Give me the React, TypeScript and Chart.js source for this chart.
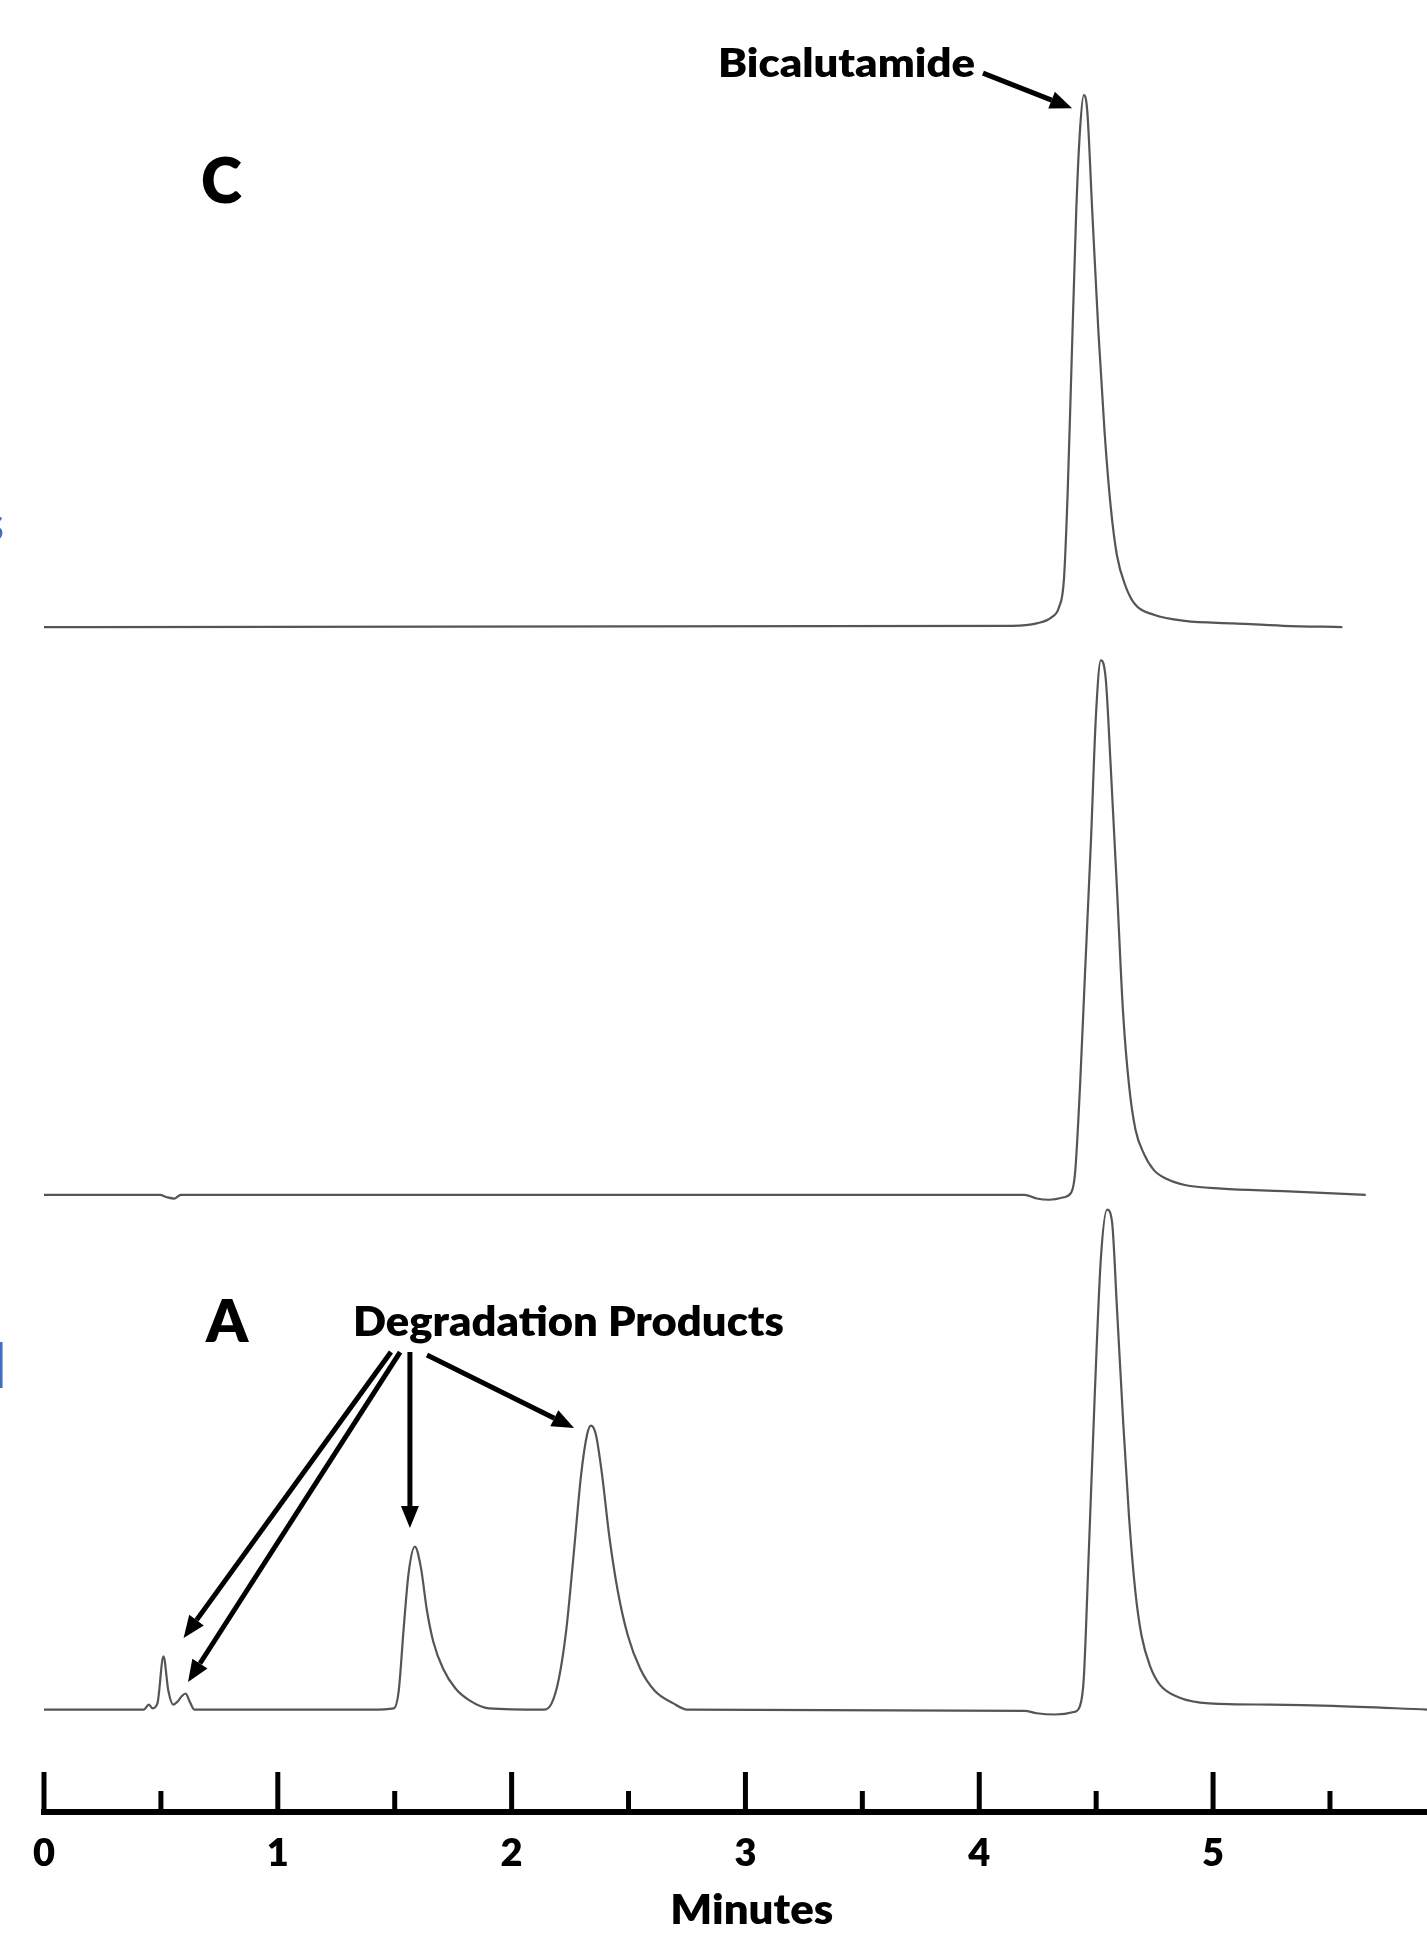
import React, { useEffect, useRef } from "react";
import { Chart, registerables } from "chart.js";

Chart.register(...registerables);

// ---- Data (retention time in minutes, detector response above each trace's own baseline) ----
const traceA_time = [0, 0.427, 0.448, 0.464, 0.485, 0.511, 0.532, 0.553, 0.574, 0.59, 0.606, 0.622, 0.643, 1.401, 1.496, 1.517, 1.538, 1.559, 1.586, 1.612, 1.638, 1.665, 1.707, 1.76, 1.823, 1.902, 2.139, 2.171, 2.202, 2.234, 2.265, 2.297, 2.323, 2.339, 2.36, 2.387, 2.418, 2.455, 2.497, 2.55, 2.613, 2.692, 2.75, 4.194, 4.246, 4.325, 4.404, 4.431, 4.447, 4.468, 4.494, 4.52, 4.547, 4.568, 4.589, 4.615, 4.641, 4.668, 4.694, 4.731, 4.773, 4.852, 4.984, 5.247, 5.511, 5.915];
const traceA_signal = [0, 0, 4, 1, 5, 43, 15, 4, 7, 11, 13, 7, 0, 0, 1, 15, 65, 110, 132, 115, 80, 55, 33, 17, 7, 1, 0, 5, 25, 65, 125, 190, 223, 230, 223, 190, 140, 95, 60, 33, 15, 5, 0, -1, -3, -4, -2, 3, 25, 125, 255, 365, 405, 395, 325, 235, 155, 95, 60, 35, 20, 10, 5, 4, 3, 0];

const traceB_time = [0, 0.495, 0.527, 0.558, 0.585, 4.194, 4.246, 4.299, 4.362, 4.394, 4.41, 4.431, 4.452, 4.478, 4.499, 4.52, 4.541, 4.562, 4.589, 4.615, 4.641, 4.668, 4.705, 4.747, 4.8, 4.879, 5.037, 5.3, 5.653];
const traceB_signal = [0, 0, -2, -3, 0, 0, -3, -4, -2, 2, 18, 88, 178, 288, 388, 433, 418, 348, 248, 148, 88, 53, 33, 20, 13, 8, 5, 3, 0];

const traceC_time = [0, 4.141, 4.246, 4.31, 4.341, 4.362, 4.378, 4.394, 4.415, 4.431, 4.447, 4.462, 4.483, 4.51, 4.536, 4.562, 4.589, 4.626, 4.668, 4.747, 4.879, 5.089, 5.3, 5.553];
const traceC_signal = [0, 1, 3, 8, 16, 38, 108, 208, 338, 403, 431, 418, 338, 238, 158, 98, 58, 33, 18, 10, 5, 3, 1, 0];

// vertical stacking offsets of the three chromatograms (A bottom, B middle, C top)
const traceOffsetA = 83;
const traceOffsetB = 500;
const traceOffsetC = 960;

const xTickValues = [0, 1, 2, 3, 4, 5];
const xTickLabels = ["0", "1", "2", "3", "4", "5"];
const xAxisTitle = "Minutes";

const X_MIN = 0;
const X_MAX = 5.915;
const Y_MIN = 0;
const Y_MAX = 1468;

// ---- Annotations (in data coordinates) ----
const textNotes = [
  { text: "C", t: 0.759, v: 1322, cap: 46 },
  { text: "A", t: 0.783, v: 398.6, cap: 44 },
  { text: "Bicalutamide", t: 3.432, v: 1417, cap: 29, width: 257 },
  { text: "Degradation Products", t: 2.243, v: 397.8, cap: 31, width: 431 },
];
const arrowNotes = [
  { t0: 4.016, v0: 1408.8, t1: 4.397, v1: 1380.4 },
  { t0: 1.484, v0: 372.6, t1: 0.597, v1: 141.0 },
  { t0: 1.523, v0: 372.6, t1: 0.616, v1: 105.3 },
  { t0: 1.565, v0: 372.6, t1: 1.565, v1: 230.1 },
  { t0: 1.638, v0: 370.2, t1: 2.267, v1: 311.1 },
];
const titleNote = { t: 3.027, capCenterY: 1908, cap: 31, width: 163 };

const FONT = "Lato, 'Open Sans', 'DejaVu Sans', sans-serif";
const WEIGHT = "800";
const TRACE_COLOR = "#555555";

function toPoints(times: number[], signal: number[], offset: number) {
  return times.map((t, i) => ({ x: t, y: signal[i] + offset }));
}

function isInt(v: number) {
  return Math.abs(v - Math.round(v)) < 1e-6;
}

function drawArrow(ctx: CanvasRenderingContext2D, x0: number, y0: number, x1: number, y1: number) {
  const headLen = 22;
  const headW = 9;
  const ang = Math.atan2(y1 - y0, x1 - x0);
  const bx = x1 - headLen * Math.cos(ang);
  const by = y1 - headLen * Math.sin(ang);
  ctx.lineWidth = 5;
  ctx.lineCap = "butt";
  ctx.beginPath();
  ctx.moveTo(x0, y0);
  ctx.lineTo(bx, by);
  ctx.stroke();
  ctx.beginPath();
  ctx.moveTo(x1, y1);
  ctx.lineTo(bx + headW * Math.sin(ang), by - headW * Math.cos(ang));
  ctx.lineTo(bx - headW * Math.sin(ang), by + headW * Math.cos(ang));
  ctx.closePath();
  ctx.fill();
}

function drawFitText(ctx: CanvasRenderingContext2D, text: string, cx: number, capCenterY: number, cap: number, width?: number) {
  ctx.font = `${WEIGHT} 100px ${FONT}`;
  const capRef = ctx.measureText("H").actualBoundingBoxAscent;
  const size = (100 * cap) / capRef;
  ctx.font = `${WEIGHT} ${size}px ${FONT}`;
  const w = ctx.measureText(text).width;
  const sx = width ? width / w : 1;
  ctx.save();
  ctx.translate(cx, capCenterY + cap / 2);
  ctx.scale(sx, 1);
  ctx.textAlign = "center";
  ctx.textBaseline = "alphabetic";
  ctx.fillText(text, 0, 0);
  ctx.restore();
}

const decorPlugin = {
  id: "decor",
  afterDraw(chart: any) {
    const ctx: CanvasRenderingContext2D = chart.ctx;
    const xs = chart.scales.x;
    const ys = chart.scales.y;
    ctx.save();
    // upward tick marks on the time axis
    ctx.strokeStyle = "#000";
    ctx.fillStyle = "#000";
    ctx.lineWidth = 5;
    ctx.lineCap = "butt";
    const axisY = xs.top;
    xs.ticks.forEach((tk: any) => {
      const px = xs.getPixelForValue(tk.value);
      const len = isInt(tk.value) ? 40 : 21;
      ctx.beginPath();
      ctx.moveTo(px, axisY);
      ctx.lineTo(px, axisY - len);
      ctx.stroke();
    });

    // axis title
    drawFitText(ctx, xAxisTitle, xs.getPixelForValue(titleNote.t), titleNote.capCenterY, titleNote.cap, titleNote.width);

    // text notes
    textNotes.forEach((n) => {
      drawFitText(ctx, n.text, xs.getPixelForValue(n.t), ys.getPixelForValue(n.v), n.cap, n.width);
    });

    // arrows
    arrowNotes.forEach((a) => {
      drawArrow(
        ctx,
        xs.getPixelForValue(a.t0),
        ys.getPixelForValue(a.v0),
        xs.getPixelForValue(a.t1),
        ys.getPixelForValue(a.v1)
      );
    });

    // clipped blue letters from a neighbouring panel at the left edge
    ctx.fillStyle = "#3f6fc4";
    ctx.textAlign = "left";
    ctx.textBaseline = "alphabetic";
    ctx.font = `bold 50px ${FONT}`;
    let m = ctx.measureText("s");
    ctx.fillText("s", 3 - m.actualBoundingBoxRight, 541);
    ctx.font = `bold 62px ${FONT}`;
    m = ctx.measureText("l");
    ctx.fillText("l", 3 - m.actualBoundingBoxRight, 1388);
    ctx.restore();
  },
};

export default function App() {
  const canvasRef = useRef<HTMLCanvasElement | null>(null);

  useEffect(() => {
    const canvas = canvasRef.current;
    if (!canvas) return;
    const common = {
      borderColor: TRACE_COLOR,
      borderWidth: 2.2,
      pointRadius: 0,
      fill: false,
      cubicInterpolationMode: "monotone" as const,
    };
    const chart = new Chart(canvas, {
      type: "line",
      data: {
        datasets: [
          { label: "A", data: toPoints(traceA_time, traceA_signal, traceOffsetA), ...common },
          { label: "B", data: toPoints(traceB_time, traceB_signal, traceOffsetB), ...common },
          { label: "C", data: toPoints(traceC_time, traceC_signal, traceOffsetC), ...common },
        ],
      },
      options: {
        animation: false,
        responsive: false,
        devicePixelRatio: 1,
        layout: { padding: { left: 44, right: 0, top: 0, bottom: 0 } },
        plugins: { legend: { display: false }, tooltip: { enabled: false }, title: { display: false } },
        scales: {
          x: {
            type: "linear",
            min: X_MIN,
            max: X_MAX,
            grid: { display: false, drawTicks: false },
            border: { display: true, color: "#000", width: 6 },
            ticks: {
              stepSize: 0.5,
              includeBounds: false,
              autoSkip: false,
              maxRotation: 0,
              padding: 19,
              color: "#000",
              font: { family: FONT, weight: WEIGHT, size: 38 },
              callback: (value: any) => {
                const v = Number(value);
                const idx = xTickValues.findIndex((t) => Math.abs(t - v) < 1e-6);
                return idx >= 0 ? xTickLabels[idx] : "";
              },
            },
            title: { display: false },
            afterFit: (scale: any) => {
              scale.height = 123;
            },
          },
          y: {
            type: "linear",
            display: false,
            min: Y_MIN,
            max: Y_MAX,
          },
        },
      },
      plugins: [decorPlugin],
    });
    return () => chart.destroy();
  }, []);

  return (
    <div style={{ position: "absolute", left: 0, top: 0, width: 1427, height: 1935, background: "#fff" }}>
      <canvas ref={canvasRef} width={1427} height={1935} style={{ display: "block" }} />
    </div>
  );
}
